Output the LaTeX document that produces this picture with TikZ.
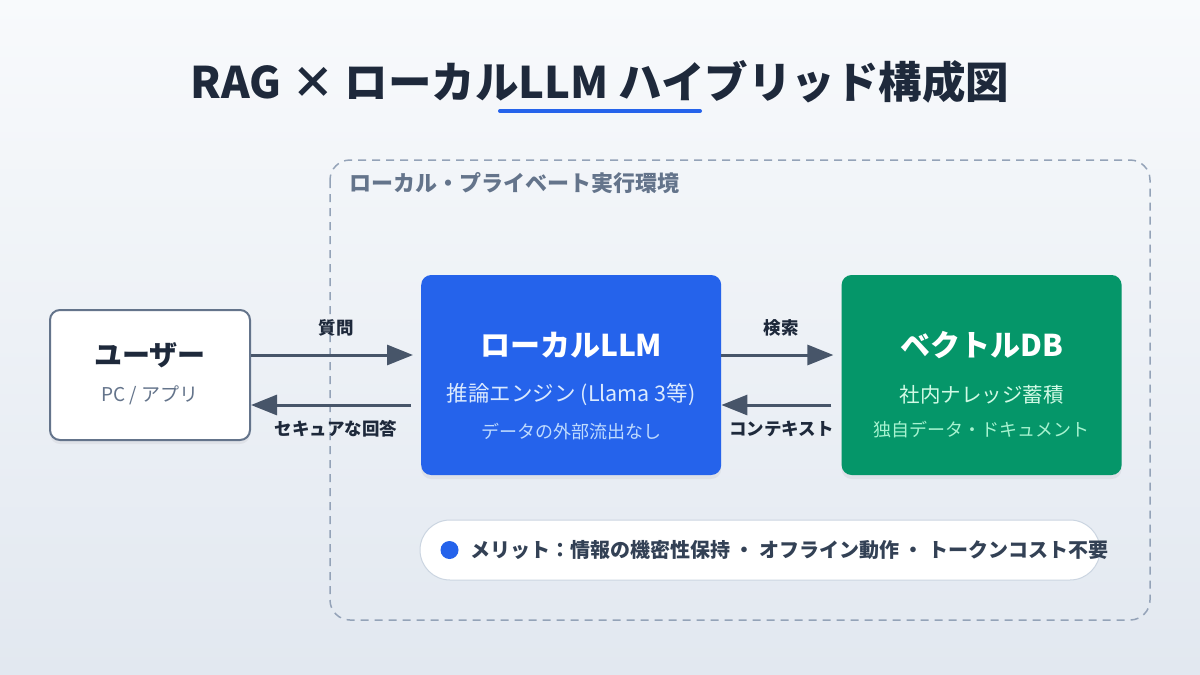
\documentclass[tikz,border=0pt]{standalone}
\usepackage{fontspec}
\setmainfont{Noto Sans CJK JP}
\usepackage{xcolor}
\usepackage{tikz}
\usetikzlibrary{arrows.meta, positioning, shadows}

\definecolor{bgtop}{HTML}{F8FAFC}
\definecolor{bgbot}{HTML}{E2E8F0}
\definecolor{ink}{HTML}{1E293B}
\definecolor{slate}{HTML}{64748B}
\definecolor{arrowgray}{HTML}{475569}
\definecolor{frame}{HTML}{94A3B8}
\definecolor{accent}{HTML}{2563EB}
\definecolor{dbgreen}{HTML}{059669}
\definecolor{llmsub}{HTML}{DBEAFE}
\definecolor{llmnote}{HTML}{BFDBFE}
\definecolor{dbsub}{HTML}{D1FAE5}
\definecolor{dbnote}{HTML}{A7F3D0}
\definecolor{pillline}{HTML}{CBD5E1}
\definecolor{pilltext}{HTML}{334155}

\begin{document}
\begin{tikzpicture}[
    x=1pt, y=-1pt,
    box/.style={
        rectangle,
        rounded corners=10pt,
        minimum height=200pt,
        drop shadow={opacity=0.10, shadow xshift=0pt, shadow yshift=-4pt}
    },
    headtext/.style={
        font=\fontsize{30}{36}\selectfont\bfseries
    },
    subtext/.style={
        font=\fontsize{20.5}{25}\selectfont
    },
    notetext/.style={
        font=\fontsize{18}{22}\selectfont
    },
    flow/.style={
        -{Triangle[length=26pt, width=20pt]},
        line width=3pt,
        draw=arrowgray
    },
    flowlabel/.style={
        font=\fontsize{17.5}{21}\selectfont\bfseries,
        text=ink
    }
]
\useasboundingbox (0,0) rectangle (1200,675);
\shade[top color=bgtop, bottom color=bgbot] (0,0) rectangle (1200,675);

% === Title ===
\node[font=\fontsize{43.5}{52}\selectfont\bfseries, text=ink] (title) at (600,82) {RAG × ローカルLLM ハイブリッド構成図};
\draw[accent, line width=4pt, line cap=round] (500,111) -- (700,111);

% === Local environment ===
\draw[frame, line width=1.5pt, dash pattern=on 8pt off 6pt, rounded corners=20pt] (330,160) rectangle (1150,620);
\node[anchor=west, font=\fontsize{22}{26}\selectfont\bfseries, text=slate] (envlabel) at (346,183) {ローカル・プライベート実行環境};

% === Boxes ===
\node[box, minimum width=200pt, minimum height=130pt, fill=white, draw=slate, line width=2pt] (user) at (150,375) {};
\node[box, minimum width=300pt, fill=accent, right=170pt of user] (llm) {};
\node[box, minimum width=280pt, fill=dbgreen, right=120pt of llm] (db) {};

\node[headtext, font=\fontsize{28}{34}\selectfont\bfseries, text=ink] (usertitle) at ([yshift=20pt]user.center) {ユーザー};
\node[subtext, font=\fontsize{19}{23}\selectfont, text=slate] (usersub) at ([yshift=-20pt]user.center) {PC / アプリ};

\node[headtext, text=white] (llmtitle) at ([yshift=30pt]llm.center) {ローカルLLM};
\node[subtext, font=\fontsize{21.5}{26}\selectfont, text=llmsub] (llmsub) at ([yshift=-20pt]llm.center) {推論エンジン (Llama 3等)};
\node[notetext, text=llmnote] (llmnote) at ([yshift=-57pt]llm.center) {データの外部流出なし};

\node[headtext, text=white] (dbtitle) at ([yshift=30pt]db.center) {ベクトルDB};
\node[subtext, text=dbsub] (dbsub) at ([yshift=-20pt]db.center) {社内ナレッジ蓄積};
\node[notetext, text=dbnote] (dbnote) at ([yshift=-55pt]db.center) {独自データ・ドキュメント};

% === Arrows ===
\draw[flow, shorten >=8pt] ([yshift=20pt]user.east) -- ([yshift=20pt]llm.west)
    node[flowlabel, midway, above=14pt] {質問};
\draw[flow, shorten <=10pt] ([yshift=-30pt]llm.west) -- ([yshift=-30pt]user.east)
    node[flowlabel, midway, below=11pt] {セキュアな回答};
\draw[flow, shorten >=8pt] ([yshift=20pt]llm.east) -- ([yshift=20pt]db.west)
    node[flowlabel, midway, above=14pt] {検索};
\draw[flow, shorten <=10pt] ([yshift=-30pt]db.west) -- ([yshift=-30pt]llm.east)
    node[flowlabel, midway, below=11pt] {コンテキスト};

% === Merits ===
\node[rectangle, rounded corners=30pt, minimum width=680pt, minimum height=60pt, fill=white, draw=pillline, line width=1pt] (merit) at (760,550) {};
\node[circle, fill=accent, minimum size=18pt, inner sep=0pt] (dot) at ([xshift=30pt]merit.west) {};
\node[anchor=west, font=\fontsize{20}{24}\selectfont\bfseries, text=pilltext] (merittext) at ([xshift=8pt]dot.east) {メリット：情報の機密性保持 ・ オフライン動作 ・ トークンコスト不要};
\end{tikzpicture}
\end{document}
